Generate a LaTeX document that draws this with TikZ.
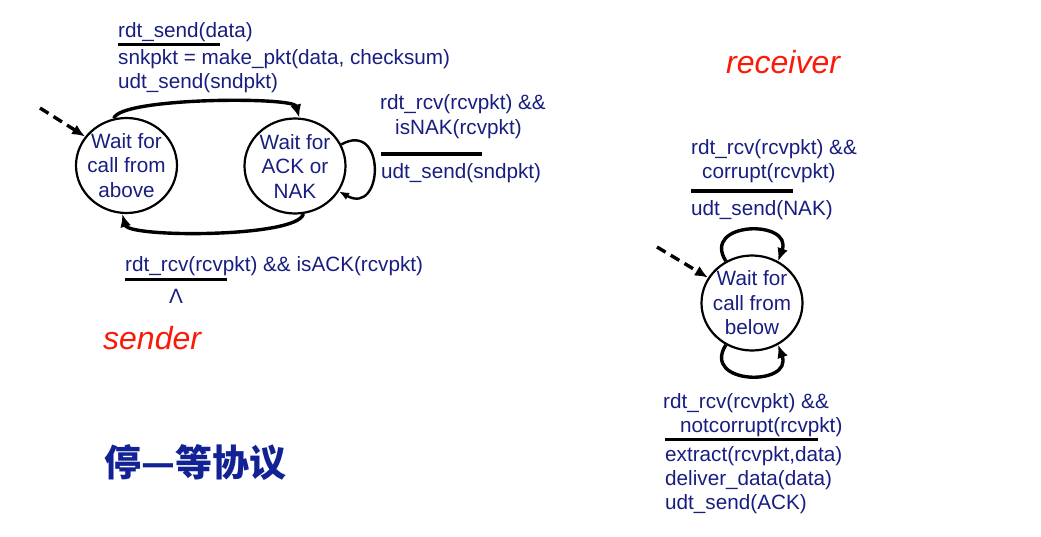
\documentclass[tikz,border=0pt]{standalone}
\usepackage{fontspec}
\setmainfont{Liberation Sans}
\newfontfamily\cjk{Noto Sans CJK SC}
\usetikzlibrary{shapes.geometric,arrows.meta}
\definecolor{fsmblue}{RGB}{24,30,128}
\definecolor{fsmred}{RGB}{250,26,8}
\definecolor{cnblue}{RGB}{18,34,148}
\tikzset{
  state/.style={ellipse, draw, line width=2.2pt, minimum width=101pt, minimum height=95pt,
                inner xsep=-7pt, inner ysep=0pt, align=center, text=fsmblue},
  trans/.style={-{Latex[length=13pt,width=11pt]}, line width=3.4pt},
  selfloop/.style={-{Latex[length=10pt,width=8pt]}, line width=2.4pt},
  init/.style={trans, dash pattern=on 10pt off 6pt},
  lbl/.style={anchor=base west, inner sep=0pt, text=fsmblue},
  rule/.style={line width=3.2pt},
  tag/.style={anchor=base west, inner sep=0pt, text=fsmred, font=\fontsize{32}{36}\selectfont\itshape}
}
\begin{document}
\begin{tikzpicture}[x=1pt,y=1pt,font=\fontsize{20.7}{24.5}\selectfont]
\useasboundingbox (0,0) rectangle (1041,-536);

	% sender
	\node[state] (s_call) at (126.5,-165.5) {Wait for\\call from\\above};
	\node[state] (s_ack) at (295,-166) {Wait for\\ACK or\\NAK};
	\coordinate (s_start) at (40,-108);
	\draw[init] (s_start) -- (s_call.145);
	\draw[trans] (s_call.105) to[out=75,in=105,looseness=0.3] (s_ack.85);
	\draw[trans] (s_ack.-80) to[out=-105,in=-75,looseness=0.35] (s_call.-95);
	\draw[selfloop] (s_ack.25) .. controls +(45,25) and +(45,-25) .. (s_ack.-30);

	\node[lbl] (s_ev) at (118,-37.5) {rdt\_send(data)};
	\draw[rule] (118,-44.3) -- (220,-44.3);
	\node[lbl] (s_mk) at (118,-64) {snkpkt = make\_pkt(data, checksum)};
	\node[lbl] (s_send) at (118,-88) {udt\_send(sndpkt)};

	\node[lbl] (s_nak1) at (380,-109) {rdt\_rcv(rcvpkt) \&\&};
	\node[lbl] (s_nak2) at (395,-134) {isNAK(rcvpkt)};
	\draw[rule] (381,-154) -- (482,-154);
	\node[lbl] (s_resend) at (381,-178) {udt\_send(sndpkt)};

	\node[lbl] (s_ackev) at (125,-271) {rdt\_rcv(rcvpkt) \&\& isACK(rcvpkt)};
	\draw[rule] (125,-279.5) -- (227,-279.5);
	\node[lbl, anchor=base] (s_nop) at (176,-303) {Λ};

	\node[tag] (s_tag) at (103,-349) {sender};
	\node[anchor=base west, inner sep=0pt, text=cnblue,
	      font=\cjk\bfseries\fontsize{37}{40}\selectfont] (s_title) at (104,-476) {停—等协议};

	% receiver
	\node[tag] (r_tag) at (726,-73) {receiver};
	\node[state] (r_wait) at (752,-303) {Wait for\\call from\\below};
	\coordinate (r_start) at (657,-247);
	\draw[init] (r_start) -- (r_wait.150);
	\draw[trans] (r_wait.122) .. controls +(-25,40) and +(15,42) .. (r_wait.58);
	\draw[trans] (r_wait.-122) .. controls +(-25,-40) and +(15,-42) .. (r_wait.-58);

	\node[lbl] (r_nak1) at (691,-154) {rdt\_rcv(rcvpkt) \&\&};
	\node[lbl] (r_nak2) at (702,-178) {corrupt(rcvpkt)};
	\draw[rule] (691,-191) -- (793,-191);
	\node[lbl] (r_nak) at (691,-215) {udt\_send(NAK)};

	\node[lbl] (r_ok1) at (663,-408) {rdt\_rcv(rcvpkt) \&\&};
	\node[lbl] (r_ok2) at (680,-432) {notcorrupt(rcvpkt)};
	\draw[rule] (665,-439.5) -- (818,-439.5);
	\node[lbl] (r_ext) at (665,-461.5) {extract(rcvpkt,data)};
	\node[lbl] (r_dlv) at (665,-485.5) {deliver\_data(data)};
	\node[lbl] (r_ack) at (665,-509.5) {udt\_send(ACK)};

\end{tikzpicture}
\end{document}
